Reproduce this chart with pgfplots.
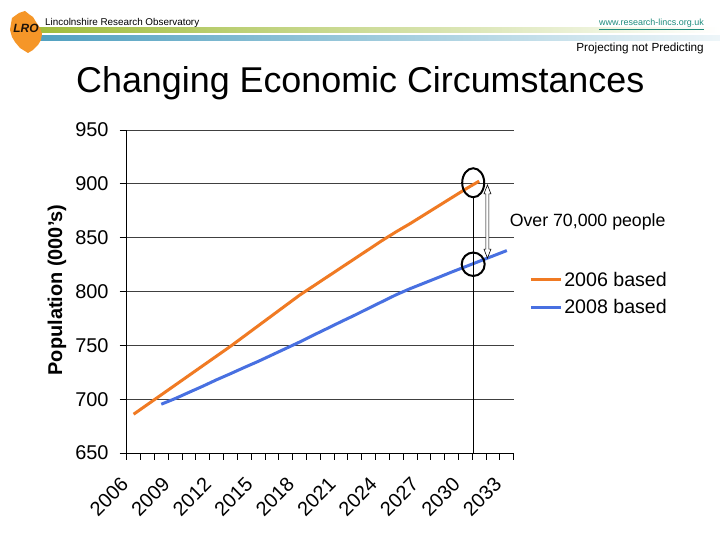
\documentclass[border=0pt]{standalone}
\usepackage{fontspec}
\setmainfont{Liberation Sans}
\usepackage{pgfplots}
\pgfplotsset{compat=1.18}
\definecolor{orangeL}{RGB}{240,122,35}
\definecolor{blueL}{RGB}{72,112,225}
\definecolor{greenbar}{RGB}{160,188,60}
\definecolor{bluebar}{RGB}{80,160,192}
\definecolor{logoor}{RGB}{245,150,40}
\definecolor{urlteal}{RGB}{30,140,125}
\newcommand{\tickfont}{\fontsize{20}{20}\selectfont}
\begin{document}
\begin{tikzpicture}[x=1bp,y=1bp]
\useasboundingbox (0,0) rectangle (720,540);
\fill[white] (0,0) rectangle (720,540);
% header bars
\shade[left color=greenbar, right color=white] (38,507) rectangle (720,512);
\shade[left color=bluebar, right color=bluebar!10] (33,499) rectangle (720,504);
% logo
\fill[logoor] (25,529) -- (19,527) -- (12,522) -- (11,516) -- (10,510) -- (12,503) -- (15,498) -- (20,492) -- (28,487) -- (33,490) -- (38,495) -- (41,500) -- (42,506) -- (40,512) -- (36,518) -- (33,523) -- (30,525) -- cycle;
\node[font=\fontsize{12}{12}\selectfont\itshape\bfseries, text=black!85!brown, inner sep=0pt] at (26,512) {LRO};
\node[anchor=base west, inner sep=0pt, font=\fontsize{9.9}{10}\selectfont] at (45,514.5) {Lincolnshire Research Observatory};
\node[anchor=base east, inner sep=0pt, font=\fontsize{9}{10}\selectfont, text=urlteal] at (704,514.5) {\underline{www.research-lincs.org.uk}};
\node[anchor=base east, inner sep=0pt, font=\fontsize{11.8}{12}\selectfont] at (704,488) {Projecting not Predicting};
\node[anchor=base west, inner sep=0pt, font=\fontsize{36}{36}\selectfont] at (76,447) {Changing Economic Circumstances};
\begin{axis}[
  at={(126.7bp,87bp)}, anchor=south west, scale only axis,
  width=387bp, height=323bp,
  xmin=2005.5, xmax=2033.5, ymin=650, ymax=950,
  ytick={650,700,750,800,850,900,950},
  yticklabels={650,700,750,800,850,900,950},
  ymajorgrids, grid style={black!75, line width=0.8bp},
  axis x line=bottom, axis y line=left,
  axis line style={-, black, line width=0.8bp},
  tick align=outside, major tick length=7bp,
  tick style={black, line width=0.8bp},
  xtick={2005.5,2006.5,2007.5,2008.5,2009.5,2010.5,2011.5,2012.5,2013.5,2014.5,2015.5,2016.5,2017.5,2018.5,2019.5,2020.5,2021.5,2022.5,2023.5,2024.5,2025.5,2026.5,2027.5,2028.5,2029.5,2030.5,2031.5,2032.5,2033.5},
  xticklabel=\empty,
  extra x ticks={2006,2009,2012,2015,2018,2021,2024,2027,2030,2033},
  extra x tick labels={\tickfont 2006,\tickfont 2009,\tickfont 2012,\tickfont 2015,\tickfont 2018,\tickfont 2021,\tickfont 2024,\tickfont 2027,\tickfont 2030,\tickfont 2033},
  extra x tick style={major tick length=0pt, grid=none, xticklabel style={rotate=45, anchor=north east, inner sep=0pt, xshift=-26bp, yshift=-6.3bp}},
  yticklabel style={font=\tickfont, inner sep=0pt, xshift=-11bp},
  ylabel={Population (000's)},
  ylabel style={font=\fontsize{20}{20}\selectfont\bfseries, at={(axis description cs:-0.180,0.505)}, anchor=center},
  clip=false,
  legend style={draw=none, fill=none, at={(axis description cs:1.032,0.493)}, anchor=west, font=\fontsize{19.7}{22}\selectfont, row sep=8bp},
  legend cell align=left,
  legend image code/.code={\draw[#1, line width=3bp] (0bp,0bp) -- (30bp,0bp);},
]
\addplot[orangeL, line width=3bp] coordinates {
(2006,686) (2007,695) (2008,704) (2009,713) (2010,722) (2011,731) (2012,740) (2013,749) (2014,758.5) (2015,768) (2016,777.5) (2017,787) (2018,796.5) (2019,805) (2020,813.5) (2021,822) (2022,830.5) (2023,839) (2024,847.5) (2025,855.5) (2026,863) (2027,871) (2028,879) (2029,887) (2030,895) (2031,902.5)};
\addlegendentry{2006 based}
\addplot[blueL, line width=3bp] coordinates {
(2008,695.3) (2009,700.5) (2010,706.3) (2011,712) (2012,718) (2013,723.6) (2014,729.4) (2015,735) (2016,741) (2017,747) (2018,753) (2019,759.4) (2020,765.6) (2021,771.9) (2022,778) (2023,784.4) (2024,790.7) (2025,797) (2026,802.6) (2027,807.7) (2028,812.8) (2029,818) (2030,823) (2031,828) (2032,833) (2033,838)};
\addlegendentry{2008 based}
% annotations
\draw[black, line width=0.8bp] (axis cs:2030.57,650) -- (axis cs:2030.57,888);
\draw[black, line width=2bp] (axis cs:2030.57,901) ellipse [x radius=11bp, y radius=14.5bp];
\draw[black, line width=2bp] (axis cs:2030.57,825.3) ellipse [x radius=11.5bp, y radius=11.7bp];
\coordinate (A) at (axis cs:2031.6,899);
\coordinate (B) at (axis cs:2031.6,831);
\draw[fill=white, line width=0.6bp] (A) -- ([xshift=3.5bp,yshift=-9bp]A) -- ([xshift=1.5bp,yshift=-9bp]A) -- ([xshift=1.5bp,yshift=9bp]B) -- ([xshift=3.5bp,yshift=9bp]B) -- (B) -- ([xshift=-3.5bp,yshift=9bp]B) -- ([xshift=-1.5bp,yshift=9bp]B) -- ([xshift=-1.5bp,yshift=-9bp]A) -- ([xshift=-3.5bp,yshift=-9bp]A) -- cycle;
\node[anchor=west, inner sep=0pt, font=\fontsize{17.8}{18}\selectfont] at (axis cs:2033.2,864.6) {Over 70,000 people};
\end{axis}
\end{tikzpicture}
\end{document}
